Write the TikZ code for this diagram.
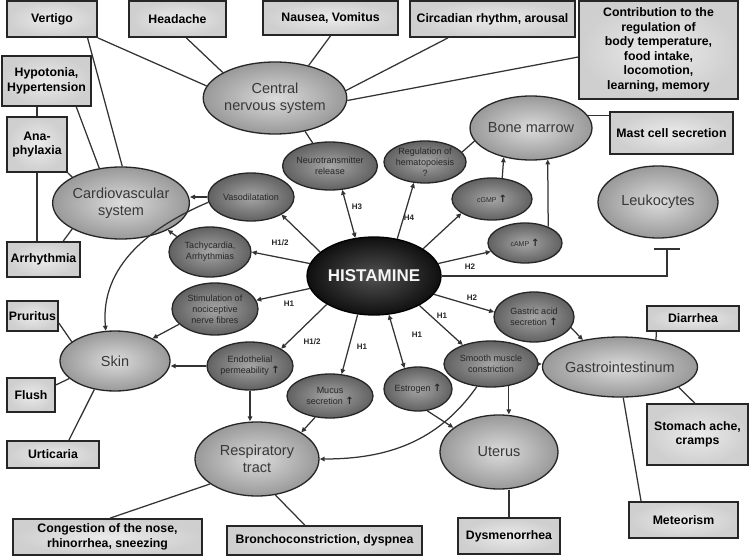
\documentclass[tikz,border=0pt]{standalone}
\usepackage{fontspec}
\setmainfont{Liberation Sans}
\newfontfamily\arrfont{DejaVu Sans}
\usetikzlibrary{shapes.geometric,arrows.meta}
\newcommand{\upar}{{\arrfont\bfseries\fontsize{10}{10}\selectfont ↑}}
\begin{document}
\begin{tikzpicture}[x=1pt,y=-1pt,
  box/.style={draw=black!85, line width=1.8pt, inner color=black!8, outer color=black!19,
    font=\bfseries\fontsize{12.3}{14.5}\selectfont, align=center, inner sep=0pt},
  organ/.style={ellipse, draw=black!85, line width=1.3pt, inner color=black!14, outer color=black!40,
    font=\fontsize{14.5}{17}\selectfont, text=black!78, align=center, inner sep=0pt},
  effect/.style={ellipse, draw=black!85, line width=1.3pt, inner color=black!35, outer color=black!62,
    font=\fontsize{9}{10.8}\selectfont, text=black!85, align=center, inner sep=0pt},
  histo/.style={ellipse, draw=black, line width=1.3pt, inner color=black!68, outer color=black!94,
    font=\bfseries\fontsize{17}{20}\selectfont, text=black!4, inner sep=0pt},
  conn/.style={draw=black!80, line width=1.25pt},
  arr/.style={conn, -{Triangle[length=5pt,width=4.5pt]}},
  darr/.style={conn, {Triangle[length=5pt,width=4.5pt]}-{Triangle[length=5pt,width=4.5pt]}},
  hlab/.style={font=\bfseries\fontsize{8}{9}\selectfont, text=black!85, inner sep=0pt}
]
\useasboundingbox (0,0) rectangle (749,556);
\fill[white] (0,0) rectangle (749,556);

% ---- boxes
\node[box, minimum width=90pt, minimum height=36pt] (vertigo) at (52,19) {Vertigo};
\node[box, minimum width=97pt, minimum height=36pt] (headache) at (177.5,19) {Headache};
\node[box, minimum width=135pt, minimum height=34pt] (nausea) at (330.5,18) {Nausea, Vomitus};
\node[box, minimum width=165pt, minimum height=36pt] (circ) at (492.5,19) {Circadian rhythm, arousal};
\node[box, minimum width=159pt, minimum height=98pt] (contrib) at (658.5,50) {Contribution to the\\regulation of\\body temperature,\\food intake,\\locomotion,\\learning, memory};
\node[box, minimum width=123pt, minimum height=42pt] (mast) at (671.5,133) {Mast cell secretion};
\node[box, minimum width=89pt, minimum height=50pt] (hypo) at (46.5,81) {Hypotonia,\\Hypertension};
\node[box, minimum width=60pt, minimum height=55pt] (ana) at (37,144.5) {Ana-\\phylaxia};
\node[box, minimum width=73pt, minimum height=35pt] (arrh) at (43.5,259.5) {Arrhythmia};
\node[box, minimum width=51pt, minimum height=30pt] (prur) at (32.5,316) {Pruritus};
\node[box, minimum width=48pt, minimum height=34pt] (flush) at (31,395) {Flush};
\node[box, minimum width=92pt, minimum height=27pt] (urt) at (53,454.5) {Urticaria};
\node[box, minimum width=189pt, minimum height=36pt] (cong) at (107.5,537) {Congestion of the nose,\\rhinorrhea, sneezing};
\node[box, minimum width=195pt, minimum height=29pt] (bronch) at (324.5,540.5) {Bronchoconstriction, dyspnea};
\node[box, minimum width=102pt, minimum height=36pt] (dys) at (509,536) {Dysmenorrhea};
\node[box, minimum width=109pt, minimum height=36pt] (met) at (683.5,520) {Meteorism};
\node[box, minimum width=101pt, minimum height=61pt] (stom) at (697.5,434.5) {Stomach ache,\\cramps};
\node[box, minimum width=92pt, minimum height=25pt] (dia) at (693,318.5) {Diarrhea};

% ---- organs
\node[organ, minimum width=124pt, minimum height=72pt] (cns) at (275,98) {Central\\nervous system};
\node[organ, minimum width=118pt, minimum height=72pt] (cardio) at (121,203) {Cardiovascular\\system};
\node[organ, minimum width=112pt, minimum height=64pt] (bm) at (531,128) {Bone marrow};
\node[organ, minimum width=120pt, minimum height=72pt] (leuk) at (658,202) {Leukocytes};
\node[organ, minimum width=110pt, minimum height=60pt] (skin) at (115,361) {Skin};
\node[organ, minimum width=124pt, minimum height=74pt] (resp) at (257,459) {Respiratory\\tract};
\node[organ, minimum width=118pt, minimum height=74pt] (ut) at (499,452) {Uterus};
\node[organ, minimum width=116pt, minimum height=60pt] (gi) at (620,367) {Gastrointestinum};

% ---- effects
\node[effect, minimum width=88pt, minimum height=48pt] (nt) at (330,166) {Neurotransmitter\\release};
\node[effect, minimum width=86pt, minimum height=48pt] (vaso) at (251,197) {Vasodilatation};
\node[effect, minimum width=82pt, minimum height=50pt] (tachy) at (210,252) {Tachycardia,\\Arrhythmias};
\node[effect, minimum width=80pt, minimum height=42pt] (reg) at (425,162) {Regulation of\\hematopoiesis\\?};
\node[effect, minimum width=80pt, minimum height=42pt, font=\fontsize{7}{8}\selectfont] (cgmp) at (492,199) {cGMP \upar};
\node[effect, minimum width=74pt, minimum height=40pt, font=\fontsize{7}{8}\selectfont] (camp) at (525,243) {cAMP \upar};
\node[effect, minimum width=86pt, minimum height=52pt] (stim) at (215,309) {Stimulation of\\nociceptive\\nerve fibres};
\node[effect, minimum width=86pt, minimum height=48pt] (endo) at (250,366) {Endothelial\\permeability \upar};
\node[effect, minimum width=86pt, minimum height=44pt] (mucus) at (330,396) {Mucus\\secretion \upar};
\node[effect, minimum width=68pt, minimum height=44pt] (est) at (418,389) {Estrogen \upar};
\node[effect, minimum width=94pt, minimum height=46pt] (sm) at (491,364) {Smooth muscle\\constriction};
\node[effect, minimum width=80pt, minimum height=50pt] (ga) at (534,317) {Gastric acid\\secretion \upar};
\node[histo, minimum width=134pt, minimum height=78pt] (h) at (374,276) {HISTAMINE};

\coordinate (leukbar) at (667,248);

% ---- plain lines
\draw[conn] (vertigo.south east) -- (cns.170);
\draw[conn] (vertigo.-28.5) -- (cardio.88);
\draw[conn] (headache.-65.3) -- (cns.154);
\draw[conn] (nausea.south) -- (cns.44);
\draw[conn] (circ.203.5) -- (cns.6);
\draw[conn] (contrib.185.4) -- (cns.-2);
\draw[conn] (hypo.-41.3) -- (cardio.122);
\draw[conn] (ana.north) -- (ana.north |- hypo.south);
\draw[conn] (ana.south) -- (ana.south |- arrh.north);
\draw[conn] (ana.south east) -- (cardio.152);
\draw[conn] (arrh.43.4) -- (cardio.208);
\draw[conn] (bm.12) -- (bm.12 -| mast.west);
\draw[conn] (reg.15) -- (bm.193);
\draw[conn] (nt.127) -- (cns.-48);
\draw[conn] (gi.37) -- (dia.200.7);
\draw[conn] (gi.-19) -- (stom.95);
\draw[conn] (gi.-84) -- (met.156.5);
\draw[conn] (dys.north |- ut.south) -- (dys.north);
\draw[conn] (prur.-15) -- (skin.156);
\draw[conn] (flush.22.6) -- (skin.201);
\draw[conn] (urt.42) -- (skin.234);
\draw[conn] (cong.82) -- (resp.208);
\draw[conn] (resp.-63) -- (bronch.142.4);

% ---- arrows from histamine
\draw[darr] (nt.-63) -- (h.116);
\draw[arr] (h.156) -- (vaso.-30);
\draw[arr] (h.169) -- (tachy.east);
\draw[arr] (h.191) -- (stim.12);
\draw[arr] (h.211.6) -- (endo.29);
\draw[arr] (h.247.5) -- (mucus.62);
\draw[darr] (h.291) -- (est.123);
\draw[arr] (h.-33.4) -- (sm.146);
\draw[arr] (h.-17.6) -- (ga.173);
\draw[arr] (h.58.8) -- (reg.242);
\draw[arr] (h.29.2) -- (cgmp.205);
\draw[arr] (h.11.7) -- (camp.194);
\draw[conn, -{Bar[width=26pt,line width=1.5pt]}] (h.east) -| (leukbar);

% ---- other arrows
\draw[arr] (cgmp.64) -- (bm.227);
\draw[arr] (camp.35) -- (bm.-62.5);
\draw[arr] (vaso.west) -- (vaso.west -| cardio.east);
\draw[arr] (tachy.155.6) -- (cardio.-30);
\draw[arr] (vaso.187) .. controls (150,227) and (100,266) .. (skin.107);
\draw[arr] (stim.203) -- (skin.31);
\draw[arr] (endo.west) -- (endo.west -| skin.east);
\draw[arr] (endo.south) -- (endo.south |- resp.north);
\draw[arr] (mucus.235) -- (resp.31);
\draw[arr] (sm.238) .. controls (438,442) and (387,459) .. (resp.0);
\draw[arr] (sm.east) -- (sm.east -| gi.west);
\draw[arr] (sm.-51.5) -- (sm.-51.5 |- ut.north);
\draw[arr] (est.-67) -- (ut.152);
\draw[arr] (ga.-16.4) -- (gi.144.5);

% ---- receptor labels
\node[hlab] (l3) at (357,207) {H3};
\node[hlab] (l4) at (409,218) {H4};
\node[hlab] (l12a) at (280,243) {H1/2};
\node[hlab] (l2a) at (470,267) {H2};
\node[hlab] (l1a) at (289,304) {H1};
\node[hlab] (l12b) at (312,342) {H1/2};
\node[hlab] (l1b) at (362,347) {H1};
\node[hlab] (l1c) at (417,335) {H1};
\node[hlab] (l1d) at (442,316) {H1};
\node[hlab] (l2b) at (472,298) {H2};
\end{tikzpicture}
\end{document}
